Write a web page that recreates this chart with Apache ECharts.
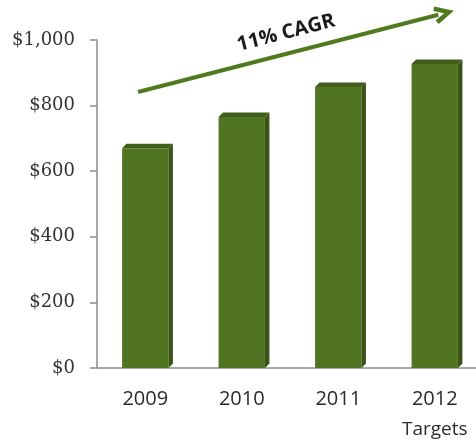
<!DOCTYPE html>
<html>
<head>
<meta charset="utf-8">
<script src="https://cdn.jsdelivr.net/npm/echarts@6/dist/echarts.min.js"></script>
<style>
  html, body { margin: 0; padding: 0; background: #fff; }
  #chart { width: 476px; height: 442px; }
</style>
</head>
<body>
<div id="chart"></div>
<script>
// Revenue by year, in dollars (2012 is a target)
const years = ['2009', '2010', '2011', '2012'];
const revenue = [670, 765, 857, 927];
const yTicks = { min: 0, max: 1000, step: 200 };
const growthLabel = '11% CAGR';
const targetYear = '2012';
const targetNote = 'Targets';

const FRONT = '#507421';
const SIDE = '#3a5417';
const TOP = '#405d19';

const chart = echarts.init(document.getElementById('chart'));

// Bars with a small bevel: front face, darker right side and top cap
function renderBar(params, api) {
  const top = api.coord([api.value(0), api.value(1)]);
  const base = api.coord([api.value(0), 0]);
  const band = api.size([1, 0])[0];
  const w = band * 0.48;
  const d = 4.5;
  const x0 = top[0] - w / 2, x1 = top[0] + w / 2;
  const yT = top[1], yB = base[1];
  return {
    type: 'group',
    children: [
      { type: 'rect', shape: { x: x0, y: yT, width: w, height: yB - yT },
        style: { fill: FRONT } },
      { type: 'polygon', shape: { points: [[x1, yT], [x1 + d, yT - d], [x1 + d, yB - d], [x1, yB]] },
        style: { fill: SIDE } },
      { type: 'polygon', shape: { points: [[x0, yT], [x0 + d, yT - d], [x1 + d, yT - d], [x1, yT]] },
        style: { fill: TOP } }
    ]
  };
}

// Growth arrow across the top
const tail = [138, 92], tip = [449, 12];
const dx = tip[0] - tail[0], dy = tip[1] - tail[1];
const len = Math.hypot(dx, dy);
const ux = dx / len, uy = dy / len;
const px = -uy, py = ux;
const back = [tip[0] - 14 * ux, tip[1] - 14 * uy];
const angle = Math.atan2(-dy, dx);

chart.setOption({
  animation: false,
  backgroundColor: '#ffffff',
  grid: { left: 97, width: 386, top: 40, bottom: 74, containLabel: false, outerBoundsMode: 'none' },
  xAxis: {
    type: 'category',
    data: years,
    axisLine: { lineStyle: { color: '#8c8c8c', width: 1.5 } },
    axisTick: { show: false },
    axisLabel: {
      interval: 0,
      margin: 21,
      color: '#2b2b2b',
      fontFamily: 'Open Sans',
      fontSize: 20,
      align: 'center',
      formatter: function (v) {
        return v === targetYear ? v + '\n{t|' + targetNote + '}' : v;
      },
      rich: {
        t: { fontFamily: 'Open Sans', fontSize: 19, color: '#2b2b2b', lineHeight: 42, align: 'center' }
      }
    }
  },
  yAxis: {
    type: 'value',
    min: yTicks.min,
    max: yTicks.max,
    interval: yTicks.step,
    splitLine: { show: false },
    axisLine: { show: true, lineStyle: { color: '#8c8c8c', width: 1.5 } },
    axisTick: { show: true, inside: false, length: 7, lineStyle: { color: '#8c8c8c', width: 1.5 } },
    axisLabel: {
      margin: 22,
      color: '#333333',
      fontFamily: 'DejaVu Serif',
      fontSize: 18,
      formatter: function (v) { return '$' + v.toLocaleString('en-US'); }
    }
  },
  series: [{
    type: 'custom',
    renderItem: renderBar,
    data: years.map(function (y, i) { return [i, revenue[i]]; }),
    encode: { x: 0, y: 1 }
  }],
  graphic: [
    { type: 'line', shape: { x1: tail[0], y1: tail[1], x2: back[0] + 3 * ux, y2: back[1] + 3 * uy },
      style: { stroke: '#4f7a1f', lineWidth: 4 } },
    { type: 'polyline',
      shape: { points: [[back[0] + 7 * px, back[1] + 7 * py], tip, [back[0] - 7 * px, back[1] - 7 * py]] },
      style: { stroke: '#4f7a1f', lineWidth: 4.5, fill: null, lineJoin: 'miter' } },
    { type: 'text', x: 286, y: 33, rotation: angle,
      style: { text: growthLabel, fill: '#1a1a1a', font: 'bold 20px "Open Sans"',
               textAlign: 'center', textVerticalAlign: 'middle' } }
  ]
});
</script>
</body>
</html>
